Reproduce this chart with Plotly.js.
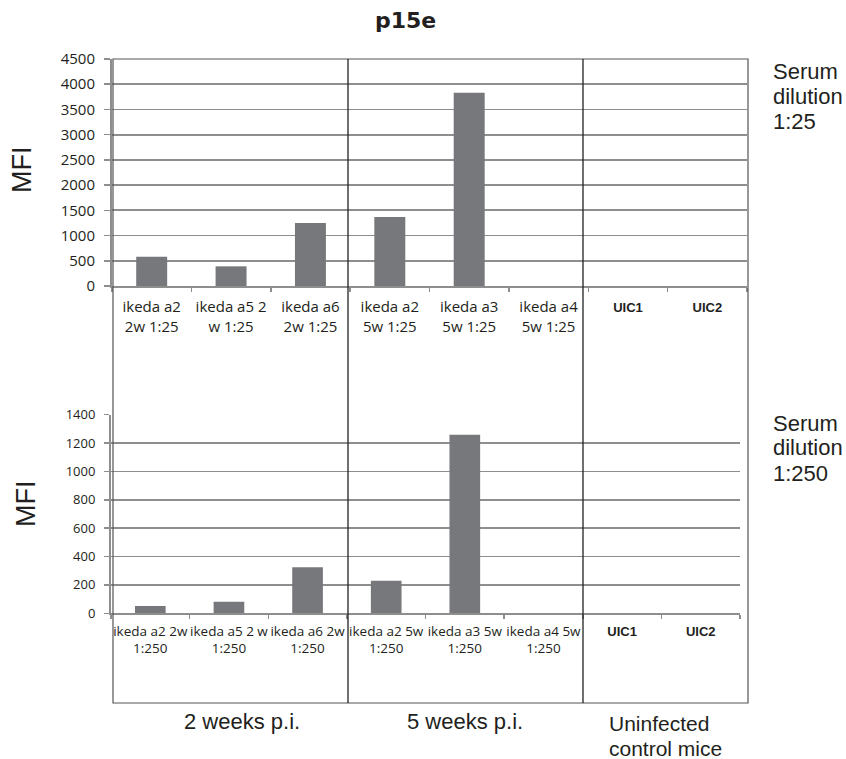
<!DOCTYPE html>
<html>
<head>
<meta charset="utf-8">
<script src="https://cdn.plot.ly/plotly-3.0.1.min.js"></script>
<style>html,body{margin:0;padding:0;background:#fff;}#chart{width:846px;height:759px;}</style>
</head>
<body>
<div id="chart"></div>
<script>
// ---- data ----
var categoriesTop = ["ikeda a2<br>2w 1:25", "ikeda a5 2<br>w 1:25", "ikeda a6<br>2w 1:25",
                     "ikeda a2<br>5w 1:25", "ikeda a3<br>5w 1:25", "ikeda a4<br>5w 1:25",
                     "UIC1", "UIC2"];
var valuesTop = [580, 390, 1250, 1370, 3830, 0, 0, 0];

var categoriesBottom = ["ikeda a2 2w<br>1:250", "ikeda a5 2 w<br>1:250", "ikeda a6 2w<br>1:250",
                        "ikeda a2 5w<br>1:250", "ikeda a3 5w<br>1:250", "ikeda a4 5w<br>1:250",
                        "UIC1", "UIC2"];
var valuesBottom = [52, 82, 324, 230, 1259, 0, 0, 0];

var chartTitle = "p15e";
var yTitle = "MFI";
var dilutionTop = ["Serum", "dilution", "1:25"];
var dilutionBottom = ["Serum", "dilution", "1:250"];
var groupLabels = ["2 weeks p.i.", "5 weeks p.i."];
var controlLabel = ["Uninfected", "control mice"];

// ---- layout helpers ----
var W = 846, H = 759;
function fx(p) { return p / W; }
function fy(p) { return 1 - p / H; }

function styledTicks(arr) {
  return arr.map(function (t) {
    if (t.indexOf("UIC") === 0) {
      return '<span style="font-family:\'Liberation Sans\', Arial, sans-serif;font-weight:bold;font-size:13px">' + t + '</span>';
    }
    return t;
  });
}

var barColor = "#77787b";
var gridColor = "#8e8e8e";
var textColor = "#231f20";

var traces = [
  {type: "bar", x: categoriesTop, y: valuesTop, xaxis: "x", yaxis: "y",
   marker: {color: barColor}, hoverinfo: "x+y"},
  {type: "bar", x: categoriesBottom, y: valuesBottom, xaxis: "x2", yaxis: "y2",
   marker: {color: barColor}, hoverinfo: "x+y"}
];

var tickFontTop = {family: "Open Sans, sans-serif", size: 15, color: textColor};
var tickFontBottom = {family: "Open Sans, sans-serif", size: 13.5, color: textColor};

var layout = {
  width: W, height: H, autosize: false,
  margin: {l: 0, r: 0, t: 0, b: 0, pad: 0},
  paper_bgcolor: "#fff", plot_bgcolor: "rgba(0,0,0,0)",
  showlegend: false,
  bargap: 0.61,
  xaxis: {
    domain: [fx(112), fx(747)], anchor: "y",
    type: "category", categoryorder: "array", categoryarray: categoriesTop,
    tickvals: categoriesTop, ticktext: styledTicks(categoriesTop),
    tickson: "boundaries", ticks: "outside", ticklen: 4, tickwidth: 1.5, tickcolor: gridColor,
    showline: true, linecolor: gridColor, linewidth: 2,
    showgrid: false, zeroline: false, tickangle: 0,
    tickfont: tickFontTop, ticklabelstandoff: 6, fixedrange: true
  },
  yaxis: {
    domain: [fy(286), fy(59)], anchor: "x",
    range: [0, 4500], dtick: 500, tick0: 0,
    ticks: "outside", ticklen: 6, tickwidth: 1.5, tickcolor: gridColor,
    showline: true, linecolor: gridColor, linewidth: 2,
    showgrid: true, gridcolor: gridColor, gridwidth: 1.8, zeroline: false,
    tickfont: tickFontTop, ticklabelstandoff: 6, fixedrange: true
  },
  xaxis2: {
    domain: [fx(111), fx(740)], anchor: "y2",
    type: "category", categoryorder: "array", categoryarray: categoriesBottom,
    tickvals: categoriesBottom, ticktext: styledTicks(categoriesBottom),
    tickson: "boundaries", ticks: "outside", ticklen: 4, tickwidth: 1.5, tickcolor: gridColor,
    showline: true, linecolor: gridColor, linewidth: 2,
    showgrid: false, zeroline: false, tickangle: 0,
    tickfont: tickFontBottom, ticklabelstandoff: 4, fixedrange: true
  },
  yaxis2: {
    domain: [fy(613.3), fy(414.7)], anchor: "x2",
    range: [0, 1400], dtick: 200, tick0: 0,
    ticks: "outside", ticklen: 5, tickwidth: 1.5, tickcolor: gridColor,
    showline: true, linecolor: gridColor, linewidth: 2,
    showgrid: true, gridcolor: gridColor, gridwidth: 1.8, zeroline: false,
    tickfont: {family: "Open Sans, sans-serif", size: 13, color: textColor},
    ticklabelstandoff: 6, fixedrange: true
  },
  shapes: [
    // outer frame
    {type: "rect", xref: "paper", yref: "paper", x0: fx(113), x1: fx(748), y0: fy(703), y1: fy(59),
     line: {color: "#555", width: 1.2}, fillcolor: "rgba(0,0,0,0)", layer: "above"},
    // group dividers
    {type: "line", xref: "paper", yref: "paper", x0: fx(348), x1: fx(348), y0: fy(703), y1: fy(59),
     line: {color: "#222", width: 1.3}, layer: "above"},
    {type: "line", xref: "paper", yref: "paper", x0: fx(583), x1: fx(583), y0: fy(703), y1: fy(59),
     line: {color: "#222", width: 1.3}, layer: "above"}
  ],
  annotations: []
};

var ann = layout.annotations;
var arialFont = function (s) { return {family: "Liberation Sans, Arial, sans-serif", size: s, color: textColor}; };

// title
ann.push({text: chartTitle, xref: "paper", yref: "paper", x: fx(405), y: fy(29),
  xanchor: "center", yanchor: "bottom", yshift: -6, showarrow: false,
  font: {family: "'DejaVu Sans', Verdana, sans-serif", size: 22, weight: "bold", color: textColor}});

// MFI labels
ann.push({text: yTitle, xref: "paper", yref: "paper", x: fx(22), y: fy(170), textangle: -90,
  xanchor: "center", yanchor: "middle", showarrow: false, font: arialFont(27)});
ann.push({text: yTitle, xref: "paper", yref: "paper", x: fx(26), y: fy(504), textangle: -90,
  xanchor: "center", yanchor: "middle", showarrow: false, font: arialFont(27)});

// serum dilution labels (one annotation per line)
var topBase = [80.7, 105.5, 130.5];
dilutionTop.forEach(function (t, i) {
  ann.push({text: t, xref: "paper", yref: "paper", x: fx(771), y: fy(topBase[i]),
    xanchor: "left", yanchor: "bottom", yshift: -5, showarrow: false, font: arialFont(22)});
});
var botBase = [432.5, 457.5, 482.7];
dilutionBottom.forEach(function (t, i) {
  ann.push({text: t, xref: "paper", yref: "paper", x: fx(771), y: fy(botBase[i]),
    xanchor: "left", yanchor: "bottom", yshift: -5, showarrow: false, font: arialFont(22)});
});

// group labels
var groupX = [242, 465];
groupLabels.forEach(function (t, i) {
  ann.push({text: t, xref: "paper", yref: "paper", x: fx(groupX[i]), y: fy(731),
    xanchor: "center", yanchor: "bottom", yshift: -5, showarrow: false, font: arialFont(22)});
});
var ctrlBase = [731.5, 756.5];
controlLabel.forEach(function (t, i) {
  ann.push({text: t, xref: "paper", yref: "paper", x: fx(607), y: fy(ctrlBase[i]),
    xanchor: "left", yanchor: "bottom", yshift: -5, showarrow: false, font: arialFont(21)});
});

Plotly.newPlot("chart", traces, layout, {displayModeBar: false, staticPlot: true});
</script>
</body>
</html>
